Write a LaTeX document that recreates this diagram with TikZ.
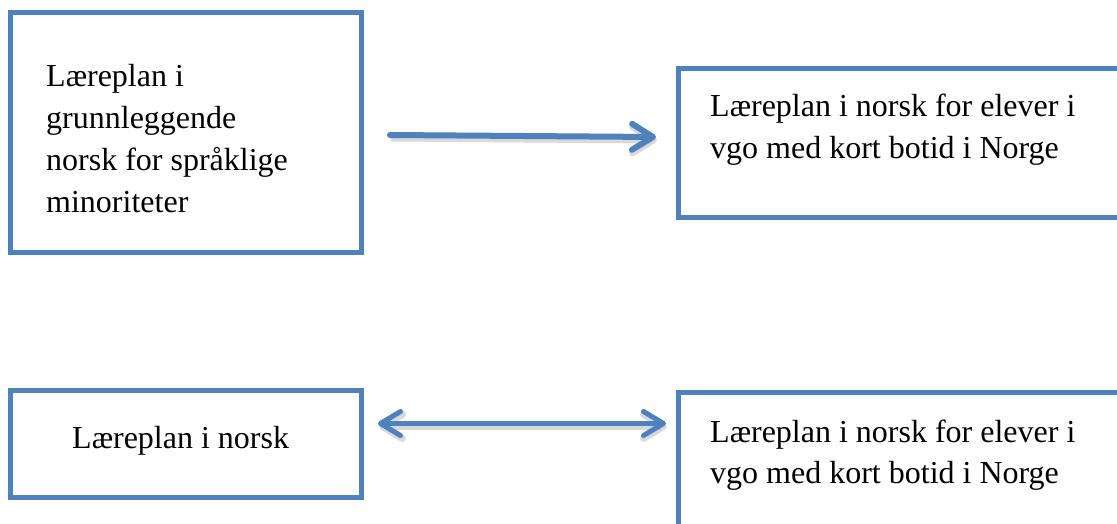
\documentclass[tikz,border=0pt]{standalone}
\usepackage{fontspec}
\setmainfont{Liberation Serif}
\usetikzlibrary{arrows.meta}
\definecolor{boxblue}{HTML}{4F81BD}
\begin{document}
\begin{tikzpicture}[x=1pt,y=-1pt,
  box/.style={draw=boxblue, line width=5pt, inner sep=0pt, outer sep=0pt, anchor=north west},
  txt/.style={inner sep=0pt, anchor=base west, text width=420pt, align=left, font=\fontsize{32}{42}\selectfont, execute at begin node={\spaceskip=8pt\relax}},
  arrshadow/.style={preaction={draw=black, opacity=0.15, line width=7pt, transform canvas={shift={(1pt,-3pt)}}}},
  arr/.style={draw=boxblue, line width=6pt, line cap=round, arrshadow,
    -{Straight Barb[length=21pt,width=26pt,line cap=round,line join=round]}},
  darr/.style={draw=boxblue, line width=5pt, line cap=round, arrshadow,
    {Straight Barb[length=20pt,width=24pt,line cap=round,line join=round]}-{Straight Barb[length=20pt,width=24pt,line cap=round,line join=round]}},
]
\useasboundingbox (0,0) rectangle (1117,524);
\clip (0,0) rectangle (1117,524);

\node[box, minimum width=351pt, minimum height=240pt] (a) at (10.5,12.5) {};
\node[box, minimum width=471.5pt, minimum height=148.5pt] (b) at (678.5,68.5) {};
\node[box, minimum width=351pt, minimum height=107pt] (c) at (10.5,390) {};
\node[box, minimum width=471.5pt, minimum height=168pt] (d) at (678.5,392) {};

\node[txt] (ta) at (46,87) {Læreplan i\\grunnleggende\\norsk for språklige\\minoriteter};
\node[txt] (tb) at (710,117) {Læreplan i norsk for elever i\\vgo med kort botid i Norge};
\node[txt] (tc) at (72,448) {Læreplan i norsk};
\node[txt, font=\fontsize{32}{41}\selectfont] (td) at (710,442) {Læreplan i norsk for elever i\\vgo med kort botid i Norge};

\draw[arr] ([shift={(28.5,2.5)}]a.east) -- ([shift={(-22.5,-5.75)}]b.west);
\draw[darr] ([shift={(16.5,-20)}]c.east) -- ([shift={(-12.5,-52.5)}]d.west);
\end{tikzpicture}
\end{document}
